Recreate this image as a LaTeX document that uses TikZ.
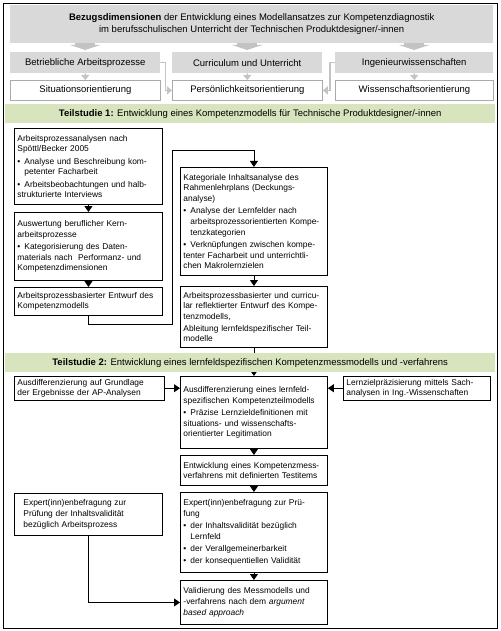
\documentclass[tikz,border=0pt]{standalone}
\usepackage{fontspec}
\setmainfont{Liberation Sans}
\usetikzlibrary{arrows.meta}
\setlength{\parindent}{0pt}
\definecolor{bandgruen}{RGB}{216,228,190}
\definecolor{hellgrau}{RGB}{217,217,217}
\definecolor{randgrau}{RGB}{170,170,170}
\definecolor{pfeilgrau}{RGB}{195,195,195}
\newcommand{\schrift}{\fontsize{8.4}{10.7}\selectfont}
\newcommand{\titel}{\fontsize{9.5}{11.5}\selectfont}
\newcommand{\punkt}{\par\vspace{1.6pt}\hangindent=7pt\hangafter=1\makebox[7pt][l]{\textbullet}}

\begin{document}
\begin{tikzpicture}
[
    x=1pt, y=-1pt,
    kasten/.style={draw, line width=0.9pt, anchor=north west, align=left,
        inner xsep=3pt, inner ysep=2.5pt, font=\schrift},
    links/.style={kasten, text width=142pt},
    mitte/.style={kasten, text width=141pt},
    dimension/.style={fill=hellgrau, anchor=north west, minimum height=21pt,
        inner sep=0pt, font=\titel},
    leitidee/.style={draw=randgrau, line width=0.8pt, anchor=north west,
        minimum height=20pt, inner sep=0pt, font=\titel},
    band/.style={fill=bandgruen, anchor=north west, minimum width=490pt,
        minimum height=19pt, inner sep=0pt, font=\titel},
    pfeil/.style={line width=0.9pt, -{Triangle[width=8pt,length=6pt]}},
    graupfeil/.style={draw=pfeilgrau, line width=1.3pt, -{Triangle[width=8pt,length=5pt]}},
]
\useasboundingbox (0,0) rectangle (500,631);
\draw[line width=0.8pt] (3,3) rectangle (497,628);

\node[dimension, minimum width=483pt, minimum height=38pt, align=center] (bezug) at (10,5)
    {\textbf{Bezugsdimensionen} der Entwicklung eines Modellansatzes zur Kompetenzdiagnostik\\
     im berufsschulischen Unterricht der Technischen Produktdesigner/-innen};
\node[dimension, minimum width=150pt] (betrieb) at (10,52) {Betriebliche Arbeitsprozesse};
\node[dimension, minimum width=150pt] (curric) at (172,52) {Curriculum und Unterricht};
\node[dimension, minimum width=158pt] (ingen) at (335,52) {Ingenieurwissenschaften};
\node[leitidee, minimum width=150pt] (situation) at (10,80) {Situationsorientierung};
\node[leitidee, minimum width=150pt] (person) at (172,80) {Persönlichkeitsorientierung};
\node[leitidee, minimum width=158pt] (wissen) at (335,80) {Wissenschaftsorientierung};

\foreach \n/\m in {betrieb/situation,curric/person,ingen/wissen}
{
    \draw[pfeilgrau, line width=20pt, -{Triangle[width=30pt,length=5pt]}]
        (bezug.south -| \n.north) -- ([yshift=2pt]\n.north);
    \draw[graupfeil] (\n.south) -- (\m.north);
}
\draw[graupfeil] (betrieb.east) -- ++(5,0) |- (person.west);
\draw[graupfeil] (ingen.west) -- ++(-5,0) |- (person.east);

\node[band] (ts1) at (5,104)
    {\textbf{Teilstudie 1:} Entwicklung eines Kompetenzmodells für Technische Produktdesigner/-innen};

\node[links, minimum height=76pt] (a1) at (14,128)
    {Arbeitsprozessanalysen nach\\ Spöttl/Becker 2005
     \punkt Analyse und Beschreibung kom-\newline petenter Facharbeit
     \punkt Arbeitsbeobachtungen und halb-\newline strukturierte Interviews};
\node[links, minimum height=68pt] (a2) at (14,212)
    {Auswertung beruflicher Kern-\\ arbeitsprozesse
     \punkt Kategorisierung des Daten-\newline materials nach~ Performanz- und\newline Kompetenzdimensionen};
\node[links, minimum height=28pt] (a3) at (14,287)
    {Arbeitsprozessbasierter Entwurf des\\ Kompetenzmodells};
\node[mitte, minimum height=108pt] (b1) at (180,167)
    {Kategoriale Inhaltsanalyse des\\ Rahmenlehrplans (Deckungs-\\ analyse)
     \punkt Analyse der Lernfelder nach\newline arbeitsprozessorientierten Kompe-\newline tenzkategorien
     \punkt Verknüpfungen zwischen kompe-\newline tenter Facharbeit und unterrichtli-\newline chen Makrolernzielen};
\node[mitte, minimum height=61pt] (b2) at (180,286)
    {Arbeitsprozessbasierter und curricu-\\ lar reflektierter Entwurf des Kompe-\\ tenzmodells,\par\vspace{1pt}
     Ableitung lernfeldspezifischer Teil-\\ modelle};

\draw[pfeil] (a1.south) -- (a2.north);
\draw[pfeil] (a2.south) -- (a3.north);
\draw[pfeil] (a3.south) |- (172,324) -- (172,150) -| (b1.north);
\draw[pfeil] (b1.south) -- (b2.north);

\node[mitte, minimum height=72pt] (c) at (180,376)
    {Ausdifferenzierung eines lernfeld-\\ spezifischen Kompetenzteilmodells
     \punkt Präzise Lernzieldefinitionen mit\newline situations- und wissenschafts-\newline orientierter Legitimation};
\draw[pfeil] (b2.south) -- (c.north);

\node[band] (ts2) at (5,353)
    {\textbf{Teilstudie 2:} Entwicklung eines lernfeldspezifischen Kompetenzmessmodells und -verfahrens};

\node[kasten, text width=144pt, minimum height=22pt] (l) at (14,376)
    {Ausdifferenzierung auf Grundlage\\ der Ergebnisse der AP-Analysen};
\node[mitte, minimum height=22pt] (r) at (343,376)
    {Lernzielpräzisierung mittels Sach-\\ analysen in Ing.-Wissenschaften};
\node[mitte, minimum height=30pt] (d) at (180,455)
    {Entwicklung eines Kompetenzmess-\\ verfahrens mit definierten Testitems};
\node[mitte, minimum height=80pt] (e) at (180,492)
    {Expert(inn)enbefragung zur Prü-\\ fung
     \punkt der Inhaltsvalidität bezüglich\newline Lernfeld
     \punkt der Verallgemeinerbarkeit
     \punkt der konsequentiellen Validität};
\node[mitte, minimum height=44pt] (f) at (180,580)
    {Validierung des Messmodells und\\ -verfahrens nach dem \textit{argument}\\ \textit{based approach}};
\node[kasten, text width=130pt, inner xsep=9pt, minimum height=42pt] (g) at (14,493)
    {Expert(inn)enbefragung zur\\ Prüfung der Inhaltsvalidität\\ bezüglich Arbeitsprozess};

\draw[pfeil] (l) -- (l -| c.west);
\draw[pfeil] (r) -- (r -| c.east);
\draw[pfeil] (c.south) -- (d.north);
\draw[pfeil] (d.south) -- (e.north);
\draw[pfeil] (e.south) -- (f.north);
\draw[pfeil] (g.south) |- (f.west);
\end{tikzpicture}
\end{document}
